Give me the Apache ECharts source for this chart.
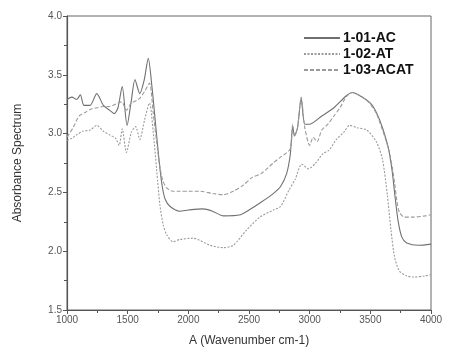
<!DOCTYPE html>
<html>
<head>
<meta charset="utf-8">
<script src="https://cdn.jsdelivr.net/npm/echarts@6/dist/echarts.min.js"></script>
<style>
html,body{margin:0;padding:0;background:#fff;}
#chart{width:449px;height:357px;}
</style>
</head>
<body>
<div id="chart"></div>
<script>
// Series names
const seriesNames = ['1-01-AC', '1-02-AT', '1-03-ACAT'];

// 1-01-AC (solid)
const acX = [1000,1040,1080,1110,1140,1190,1245,1300,1350,1390,1420,1455,1495,1530,1560,1600,1635,1670,1700,1730,1760,1785,1810,1850,1930,2000,2120,2200,2290,2430,2500,2590,2700,2760,2810,2840,2860,2875,2900,2930,2960,3000,3100,3200,3300,3350,3400,3500,3550,3600,3650,3680,3705,3730,3760,3800,3900,4000];
const acY = [3.29,3.31,3.29,3.33,3.24,3.24,3.34,3.24,3.20,3.17,3.22,3.40,3.07,3.28,3.46,3.34,3.45,3.64,3.40,3.08,2.76,2.55,2.44,2.38,2.34,2.35,2.36,2.34,2.30,2.31,2.35,2.41,2.49,2.55,2.66,2.82,3.06,2.98,3.05,3.30,3.08,3.08,3.15,3.22,3.32,3.35,3.33,3.26,3.18,3.05,2.87,2.68,2.45,2.25,2.12,2.07,2.05,2.06];

// 1-02-AT (dotted)
const atX = [1000,1040,1080,1130,1190,1245,1300,1350,1400,1430,1455,1490,1530,1565,1600,1640,1680,1710,1740,1766,1794,1822,1874,1930,2040,2180,2290,2370,2480,2590,2700,2760,2830,2880,2935,2990,3050,3110,3160,3220,3280,3330,3390,3470,3550,3600,3640,3670,3700,3740,3800,3860,3950,4000];
const atY = [2.94,2.96,2.99,3.02,3.03,3.07,3.02,2.99,2.96,2.90,3.04,2.84,3.01,3.06,2.95,3.12,3.26,3.02,2.68,2.39,2.22,2.14,2.08,2.10,2.11,2.05,2.03,2.05,2.18,2.29,2.35,2.38,2.52,2.61,2.74,2.70,2.75,2.83,2.86,2.95,3.01,3.07,3.05,3.03,2.93,2.78,2.48,2.18,1.95,1.83,1.79,1.78,1.79,1.80];

// 1-03-ACAT (dashed)
const acatX = [1000,1050,1100,1150,1200,1250,1300,1350,1400,1450,1490,1530,1570,1600,1640,1680,1710,1740,1765,1790,1820,1870,1930,2000,2100,2200,2290,2370,2450,2530,2600,2700,2760,2840,2860,2875,2900,2930,2960,3000,3030,3060,3100,3150,3200,3250,3300,3350,3400,3450,3500,3550,3600,3650,3680,3700,3720,3740,3780,3850,3950,4000];
const acatY = [2.97,3.05,3.15,3.18,3.21,3.22,3.23,3.23,3.25,3.27,3.20,3.26,3.28,3.30,3.36,3.43,3.18,2.92,2.72,2.60,2.54,2.51,2.51,2.51,2.51,2.49,2.48,2.51,2.56,2.63,2.66,2.75,2.80,2.87,3.08,2.98,3.05,3.31,3.05,2.90,2.97,2.93,3.03,3.08,3.15,3.22,3.31,3.35,3.33,3.30,3.25,3.17,3.03,2.87,2.72,2.58,2.42,2.33,2.29,2.29,2.30,2.31];

// Axis ticks
const xTicks = [1000,1500,2000,2500,3000,3500,4000];
const yTicks = [1.5,2.0,2.5,3.0,3.5,4.0];

function pairs(xs, ys){ return xs.map((x,i)=>[x, ys[i]]); }

const chart = echarts.init(document.getElementById('chart'), null, {renderer:'canvas'});
const font = '"Liberation Sans", Arial, sans-serif';
const axisCol = '#555';

chart.setOption({
  animation: false,
  backgroundColor: '#fff',
  grid: {left: 67, right: 18, top: 16, bottom: 47, show: true, borderColor: '#666', borderWidth: 1},
  legend: {
    orient: 'vertical', left: 298, top: 26, itemGap: 2, itemWidth: 36, itemHeight: 16,
    data: seriesNames,
    itemStyle: {opacity: 0},
    textStyle: {fontFamily: font, fontWeight: 'bold', fontSize: 14, color: '#111', padding: [0,0,0,-2]}
  },
  xAxis: {
    type: 'value', min: xTicks[0], max: xTicks[xTicks.length-1], interval: 500,
    name: 'A (Wavenumber cm-1)', nameLocation: 'middle', nameGap: 25,
    nameTextStyle: {fontFamily: font, fontSize: 12, color: '#333'},
    axisLine: {show: true, lineStyle: {color: axisCol, width: 1.2}},
    axisTick: {show: true, length: 4, lineStyle: {color: axisCol}},
    minorTick: {show: true, splitNumber: 2, length: 3, lineStyle: {color: axisCol}},
    splitLine: {show: false},
    axisLabel: {fontFamily: font, fontSize: 10, color: '#555', margin: 5, formatter: v => String(v)}
  },
  yAxis: {
    type: 'value', min: yTicks[0], max: yTicks[yTicks.length-1], interval: 0.5,
    name: 'Absorbance Spectrum', nameLocation: 'middle', nameGap: 43,
    nameTextStyle: {fontFamily: font, fontSize: 12, color: '#333'},
    axisLine: {show: true, lineStyle: {color: axisCol, width: 1.2}},
    axisTick: {show: true, length: 4, lineStyle: {color: axisCol}},
    minorTick: {show: true, splitNumber: 2, length: 3, lineStyle: {color: axisCol}},
    splitLine: {show: false},
    axisLabel: {fontFamily: font, fontSize: 10, color: '#555', margin: 5, formatter: v => v.toFixed(1)}
  },
  series: [
    {name: seriesNames[0], type: 'line', data: pairs(acX, acY), showSymbol: false, symbol: 'none', smooth: 0.25,
     lineStyle: {color: '#707070', width: 1.1, type: 'solid'}, itemStyle: {color: '#707070'}},
    {name: seriesNames[1], type: 'line', data: pairs(atX, atY), showSymbol: false, symbol: 'none', smooth: 0.25,
     lineStyle: {color: '#9a9a9a', width: 1.1, type: [2, 1.5]}, itemStyle: {color: '#9a9a9a'}},
    {name: seriesNames[2], type: 'line', data: pairs(acatX, acatY), showSymbol: false, symbol: 'none', smooth: 0.25,
     lineStyle: {color: '#9a9a9a', width: 1.1, type: [4, 2]}, itemStyle: {color: '#9a9a9a'}}
  ]
});
</script>
</body>
</html>
